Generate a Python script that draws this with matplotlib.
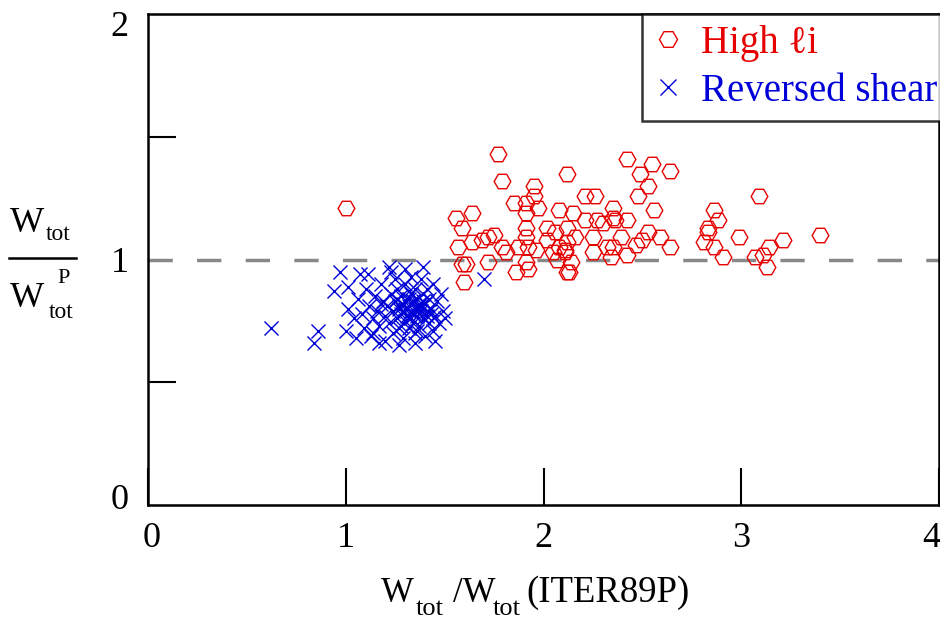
import matplotlib
matplotlib.use("Agg")
import matplotlib.pyplot as plt
from matplotlib.lines import Line2D
import matplotlib.transforms as mtransforms

plt.rcParams['font.family'] = ['Liberation Serif', 'DejaVu Serif']

# High li (red hexagons)
high_li_x = [1.00, 1.77, 1.79, 1.95, 2.12, 1.95, 1.85, 1.91, 1.97, 1.91, 1.56, 1.64, 1.59,
             2.08, 1.91, 2.02, 2.06, 2.12, 1.72, 1.75, 1.64, 1.69, 1.57, 1.79, 1.81, 1.87,
             1.92, 1.96, 1.91, 2.02, 2.05, 2.08, 2.11, 1.59, 1.61, 1.72, 1.60, 1.86, 1.92,
             1.91, 2.12, 2.07, 2.42, 2.55, 2.64, 2.49, 2.53, 2.48, 2.21, 2.26, 2.56, 2.35,
             2.35, 2.15, 2.21, 2.27, 2.30, 2.42, 2.36, 2.16, 2.25, 2.39, 2.53, 2.59, 2.50,
             2.47, 2.64, 2.12, 2.11, 2.25, 2.32, 2.35, 2.42, 2.34, 2.14, 2.13, 3.09, 2.86,
             2.88, 2.83, 2.83, 2.99, 3.21, 3.40, 2.81, 2.86, 3.14, 2.91, 3.07, 3.11, 3.13]
high_li_y = [1.21, 1.43, 1.32, 1.30, 1.35, 1.26, 1.23, 1.23, 1.21, 1.19, 1.17, 1.19, 1.13,
             1.20, 1.13, 1.13, 1.11, 1.13, 1.09, 1.10, 1.07, 1.08, 1.05, 1.05, 1.03, 1.05,
             1.05, 1.04, 1.09, 1.08, 1.03, 1.05, 1.03, 0.98, 0.98, 0.99, 0.91, 0.95, 0.96,
             0.99, 0.95, 1.00, 1.41, 1.39, 1.36, 1.35, 1.30, 1.26, 1.26, 1.26, 1.20, 1.21,
             1.17, 1.19, 1.16, 1.16, 1.15, 1.16, 1.16, 1.09, 1.09, 1.09, 1.11, 1.09, 1.08,
             1.06, 1.05, 1.07, 1.04, 1.03, 1.05, 1.05, 1.02, 1.01, 0.99, 0.95, 1.26, 1.20,
             1.16, 1.13, 1.11, 1.09, 1.08, 1.10, 1.07, 1.05, 1.05, 1.01, 1.01, 1.02, 0.97]

# Reversed shear (blue crosses)
rev_x = [0.62, 0.84, 0.86, 0.97, 0.94, 1.00, 1.01, 1.01, 1.04, 1.05, 1.06, 1.08, 1.09, 1.10,
         1.11, 1.12, 1.13, 1.14, 1.15, 1.16, 1.17, 1.18, 1.19, 1.20, 1.20, 1.21, 1.22, 1.22,
         1.23, 1.24, 1.24, 1.25, 1.25, 1.26, 1.26, 1.27, 1.27, 1.28, 1.28, 1.29, 1.29, 1.30,
         1.30, 1.30, 1.31, 1.31, 1.32, 1.32, 1.33, 1.33, 1.34, 1.34, 1.35, 1.35, 1.35, 1.36,
         1.36, 1.37, 1.37, 1.38, 1.38, 1.39, 1.39, 1.40, 1.40, 1.41, 1.41, 1.42, 1.42, 1.43,
         1.44, 1.44, 1.45, 1.46, 1.47, 1.48, 1.49, 1.50, 1.23, 1.30, 1.39, 1.17, 1.27, 1.35,
         1.45, 1.70, 1.07, 1.14, 1.33, 1.18, 1.28, 1.32, 1.36, 1.26, 1.31, 1.34, 1.37, 1.29,
         1.33, 1.36, 1.39, 1.41, 1.27, 1.32, 1.38, 1.43]
rev_y = [0.72, 0.66, 0.71, 0.95, 0.87, 0.71, 0.89, 0.80, 0.76, 0.68, 0.84, 0.78, 0.72, 0.88,
         0.94, 0.81, 0.69, 0.76, 0.85, 0.79, 0.73, 0.90, 0.83, 0.67, 0.77, 0.81, 0.97, 0.74,
         0.86, 0.79, 0.70, 0.83, 0.92, 0.76, 0.88, 0.81, 0.72, 0.78, 0.85, 0.68, 0.82, 0.75,
         0.80, 0.90, 0.84, 0.77, 0.72, 0.81, 0.86, 0.79, 0.74, 0.83, 0.70, 0.88, 0.80, 0.77,
         0.84, 0.81, 0.73, 0.79, 0.92, 0.86, 0.76, 0.82, 0.69, 0.79, 0.88, 0.74, 0.84, 0.80,
         0.71, 0.90, 0.77, 0.83, 0.74, 0.86, 0.79, 0.76, 0.95, 0.96, 0.97, 0.66, 0.65, 0.66,
         0.67, 0.92, 0.94, 0.70, 0.93, 0.82, 0.73, 0.87, 0.71, 0.84, 0.80, 0.78, 0.82, 0.79,
         0.76, 0.80, 0.83, 0.77, 0.80, 0.84, 0.81, 0.78]

x_ticks = [0, 1, 2, 3, 4]
y_ticks = [0, 1, 2]
y_minor = [0.5, 1.5]

RED = '#e60000'
BLUE = '#0000d8'

fig = plt.figure(figsize=(9.4, 6.24), dpi=100)
ax = fig.add_axes([148/940, (624-505)/624, 791/940, 491/624])

ax.axhline(1.0, color='#888888', lw=2.5, dashes=(7, 7), zorder=1)
ax.plot(rev_x, rev_y, ls='none', marker='x', ms=10.5, mew=1.0, color=BLUE,
        label='Reversed shear', zorder=3)
ax.plot(high_li_x, high_li_y, ls='none', marker='H', ms=12, mew=1.0, mfc='none',
        mec=RED, label='High \u2113i', zorder=2)

ax.set_xlim(0, 4)
ax.set_ylim(0, 2)
ax.set_xticks(x_ticks)
ax.set_xticklabels([str(v) for v in x_ticks])
ax.set_yticks(y_ticks)
ax.set_yticklabels([str(v) for v in y_ticks])
ax.set_yticks(y_minor, minor=True)
ax.tick_params(axis='x', direction='in', length=26.5, width=1.5, labelsize=26, pad=12)
ax.tick_params(axis='y', which='major', length=0, labelsize=26, pad=14)
ax.tick_params(axis='y', which='minor', direction='in', length=20, width=1.5)
for s in ax.spines.values():
    s.set_linewidth(1.8)

# nudge outer tick labels inward like the reference
offs = {0: 6/72, 2: -7/72}
for val, lab in zip(y_ticks, ax.get_yticklabels()):
    if val in offs:
        lab.set_transform(lab.get_transform() +
                          mtransforms.ScaledTranslation(0, offs[val], fig.dpi_scale_trans))
xoffs = {0: 4/100, 4: -8/100}
for val, lab in zip(x_ticks, ax.get_xticklabels()):
    if val in xoffs:
        lab.set_transform(lab.get_transform() +
                          mtransforms.ScaledTranslation(xoffs[val], 0, fig.dpi_scale_trans))

handles = [Line2D([], [], ls='none', marker='H', ms=13, mew=1.0, mfc='none', mec=RED),
           Line2D([], [], ls='none', marker='x', ms=11, mew=1.0, color=BLUE)]
leg = ax.legend(handles, ['High \u2113i', 'Reversed shear'], loc='upper left',
                bbox_to_anchor=((642-148)/791, 1.0), borderaxespad=0,
                fontsize=28, frameon=True, fancybox=False, edgecolor='black',
                handlelength=0.8, handletextpad=0.44, borderpad=0.28, labelspacing=0.28)
leg.get_frame().set_linewidth(1.8)
leg.texts[0].set_color(RED)
leg.texts[1].set_color(BLUE)

# y label as fraction
def px(x, y):
    return x / 940, 1 - y / 624

fig.text(*px(10, 232), 'W', fontsize=26, ha='left', va='baseline')
fig.text(*px(46, 240), 'tot', fontsize=17, ha='left', va='baseline')
fig.add_artist(Line2D([9/940, 76/940], [1 - 258/624, 1 - 258/624], color='black', lw=1.8))
fig.text(*px(10, 307), 'W', fontsize=26, ha='left', va='baseline')
fig.text(*px(57, 283), 'P', fontsize=16, ha='left', va='baseline')
fig.text(*px(49, 318), 'tot', fontsize=17, ha='left', va='baseline')

# x label
fig.text(*px(381, 602), 'W', fontsize=25, ha='left', va='baseline')
fig.text(*px(416, 615), 'tot', fontsize=19, ha='left', va='baseline')
fig.text(*px(453, 602), '/W', fontsize=25, ha='left', va='baseline')
fig.text(*px(493, 615), 'tot', fontsize=19, ha='left', va='baseline')
fig.text(*px(526, 602), '(ITER89P)', fontsize=26.5, ha='left', va='baseline')

fig.savefig('out.png', dpi=100)
